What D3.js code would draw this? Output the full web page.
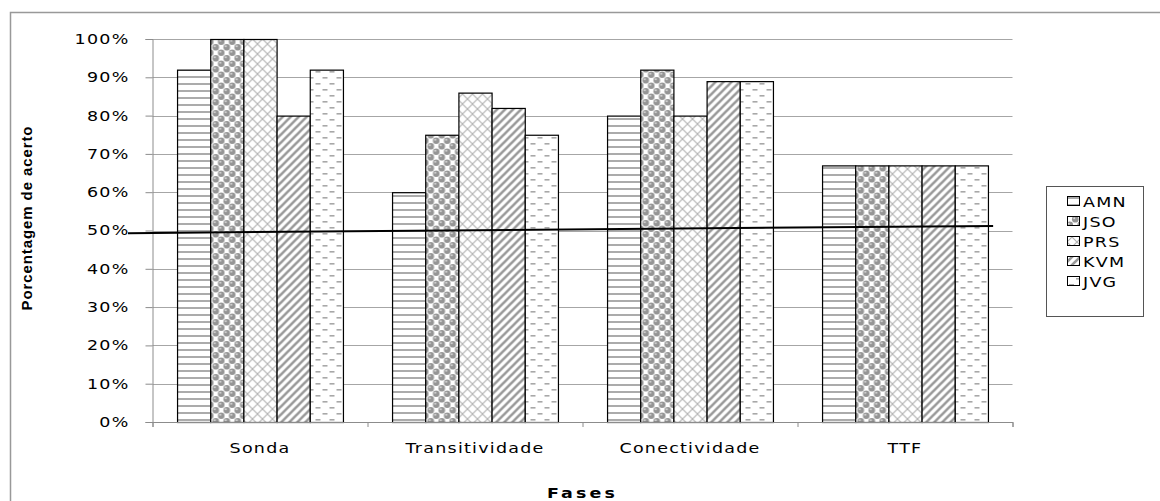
<!DOCTYPE html>
<html>
<head>
<meta charset="utf-8">
<script src="https://cdn.jsdelivr.net/npm/d3@7"></script>
<style>
  body { margin: 0; background: #fff; }
  text { font-family: "DejaVu Sans", Verdana, sans-serif; }
</style>
</head>
<body>
<div id="chart"></div>
<script>
// donnees
const fases = ["Sonda", "Transitividade", "Conectividade", "TTF"];
const series = ["AMN", "JSO", "PRS", "KVM", "JVG"];
const AMN = [0.92, 0.60, 0.80, 0.67];
const JSO = [1.00, 0.75, 0.92, 0.67];
const PRS = [1.00, 0.86, 0.80, 0.67];
const KVM = [0.80, 0.82, 0.89, 0.67];
const JVG = [0.92, 0.75, 0.89, 0.67];
const yTicks = [0, 0.1, 0.2, 0.3, 0.4, 0.5, 0.6, 0.7, 0.8, 0.9, 1.0];
// linha de tendencia (posicao em categorias, valor)
const tendencia = [{pos: -0.114, v: 0.493}, {pos: 3.91, v: 0.512}];

const valores = {AMN, JSO, PRS, KVM, JVG};

// dimensoes
const W = 1160, H = 501;
const margin = {top: 39, right: 147.5, bottom: 79, left: 152.5};
const width = W - margin.left - margin.right;
const height = H - margin.top - margin.bottom;
const etire = 1.25; // texte etire horizontalement comme dans l'original

const svg = d3.select("#chart").append("svg")
  .attr("width", W).attr("height", H);

// motifs (patterns) pour chaque serie
const defs = svg.append("defs");
const gris = "#9a9a9a";

// AMN : lignes horizontales
let p = defs.append("pattern").attr("id", "p-AMN").attr("patternUnits", "userSpaceOnUse")
  .attr("width", 8).attr("height", 7);
p.append("rect").attr("width", 8).attr("height", 7).attr("fill", "#fff");
p.append("rect").attr("y", 2).attr("width", 8).attr("height", 2).attr("fill", "#ababab");

// JSO : spheres
p = defs.append("pattern").attr("id", "p-JSO").attr("patternUnits", "userSpaceOnUse")
  .attr("width", 11).attr("height", 11);
p.append("rect").attr("width", 11).attr("height", 11).attr("fill", "#fff");
[[2.75, 2.75], [8.25, 8.25], [8.25, -2.75], [-2.75, 8.25], [13.75, 2.75], [2.75, 13.75]].forEach(c => {
  p.append("circle").attr("cx", c[0]).attr("cy", c[1]).attr("r", 3.3).attr("fill", "#959595");
  p.append("circle").attr("cx", c[0] - 1).attr("cy", c[1] - 1).attr("r", 1).attr("fill", "#dadada");
});

// PRS : quadrillage diagonal
p = defs.append("pattern").attr("id", "p-PRS").attr("patternUnits", "userSpaceOnUse")
  .attr("width", 10).attr("height", 10);
p.append("rect").attr("width", 10).attr("height", 10).attr("fill", "#fff");
p.append("path").attr("d", "M0,0L10,10M10,0L0,10").attr("stroke", "#b4b4b4").attr("stroke-width", 1.2);

// KVM : diagonales larges
p = defs.append("pattern").attr("id", "p-KVM").attr("patternUnits", "userSpaceOnUse")
  .attr("width", 8).attr("height", 8);
p.append("rect").attr("width", 8).attr("height", 8).attr("fill", "#fff");
p.append("path").attr("d", "M-2,10L10,-2M-6,6L6,-6M2,14L14,2").attr("stroke", gris).attr("stroke-width", 2.6);

// JVG : tirets
p = defs.append("pattern").attr("id", "p-JVG").attr("patternUnits", "userSpaceOnUse")
  .attr("width", 14).attr("height", 12);
p.append("rect").attr("width", 14).attr("height", 12).attr("fill", "#fff");
p.append("rect").attr("x", 2).attr("y", 2).attr("width", 5).attr("height", 1.6).attr("fill", "#a8a8a8");
p.append("rect").attr("x", 9).attr("y", 8).attr("width", 5).attr("height", 1.6).attr("fill", "#a8a8a8");

// cadre exterieur
svg.append("rect").attr("x", 10.5).attr("y", 12.5).attr("width", W).attr("height", H)
  .attr("fill", "none").attr("stroke", "#999").attr("stroke-width", 1.5);

const g = svg.append("g").attr("transform", `translate(${margin.left},${margin.top})`);

// echelles
const x0 = d3.scaleBand().domain(fases).range([0, width]).padding(0);
const x1 = d3.scaleBand().domain(series).range([0, x0.bandwidth()])
  .paddingInner(0).paddingOuter(0.74);
const xPos = d3.scaleLinear().domain([0, fases.length]).range([0, width]);
const y = d3.scaleLinear().domain([0, 1]).range([height, 0]);

// grille
g.append("g").selectAll("line").data(yTicks.slice(1)).join("line")
  .attr("x1", 0).attr("x2", width)
  .attr("y1", d => Math.round(y(d)) + 0.5).attr("y2", d => Math.round(y(d)) + 0.5)
  .attr("stroke", "#a6a6a6").attr("stroke-width", 1);

// axe Y
const axeY = g.append("g")
  .call(d3.axisLeft(y).tickValues(yTicks).tickFormat(d3.format(".0%")).tickSize(7));
axeY.select(".domain").attr("stroke", "#8c8c8c");
axeY.selectAll(".tick line").attr("stroke", "#8c8c8c");
axeY.selectAll("text").attr("font-size", 14).attr("fill", "#000")
  .attr("letter-spacing", "1px")
  .attr("x", 0)
  .attr("transform", `translate(-23,0) scale(${etire},1)`);

// barres
const grupos = g.append("g").selectAll("g").data(fases).join("g")
  .attr("transform", d => `translate(${x0(d)},0)`);
grupos.selectAll("rect")
  .data((f, i) => series.map(s => ({serie: s, valor: valores[s][i]})))
  .join("rect")
  .attr("x", d => x1(d.serie) + 0.5)
  .attr("y", d => y(d.valor) + 0.5)
  .attr("width", x1.bandwidth())
  .attr("height", d => height - y(d.valor))
  .attr("fill", d => `url(#p-${d.serie})`)
  .attr("stroke", "#000").attr("stroke-width", 1.2);

// axe X
const axeX = g.append("g").attr("transform", `translate(0,${height})`)
  .call(d3.axisBottom(xPos).tickValues(d3.range(fases.length + 1)).tickFormat("").tickSize(5));
axeX.select(".domain").attr("stroke", "#8c8c8c");
axeX.selectAll(".tick line").attr("stroke", "#8c8c8c");

g.append("g").selectAll("text").data(fases).join("text")
  .attr("transform", d => `translate(${x0(d) + x0.bandwidth() / 2},${height + 31}) scale(${etire},1)`)
  .attr("text-anchor", "middle")
  .attr("font-size", 14).attr("letter-spacing", "1px")
  .text(d => d);

// linha de tendencia
g.append("path").datum(tendencia)
  .attr("d", d3.line().x(d => xPos(d.pos)).y(d => y(d.v)))
  .attr("stroke", "#000").attr("stroke-width", 2).attr("fill", "none");

// titres des axes
svg.append("text")
  .attr("transform", `translate(${margin.left + width / 2},498) scale(${etire},1)`)
  .attr("text-anchor", "middle").attr("font-weight", "bold").attr("font-size", 14)
  .attr("letter-spacing", "2.5px").text("Fases");

svg.append("text")
  .attr("transform", `translate(32,218) rotate(-90)`)
  .attr("text-anchor", "middle").attr("font-weight", "bold").attr("font-size", 15)
  .style("font-family", "'Liberation Sans', Arial, sans-serif")
  .attr("letter-spacing", "0.9px")
  .text("Porcentagem de acerto");

// legende
const leg = svg.append("g").attr("transform", "translate(1046,186)");
leg.append("rect").attr("x", 0.5).attr("y", 0.5).attr("width", 97).attr("height", 130)
  .attr("fill", "#fff").attr("stroke", "#555").attr("stroke-width", 1);
const items = leg.selectAll("g").data(series).join("g")
  .attr("transform", (d, i) => `translate(21,${16 + i * 20})`);
items.append("rect").attr("x", 0.5).attr("y", -5.5).attr("width", 12).attr("height", 9)
  .attr("fill", d => `url(#p-${d})`).attr("stroke", "#000").attr("stroke-width", 1);
items.append("text")
  .attr("transform", `translate(16,0) scale(${etire},1)`)
  .attr("dy", "0.35em")
  .attr("font-size", 14).attr("letter-spacing", "1px").text(d => d);
</script>
</body>
</html>
